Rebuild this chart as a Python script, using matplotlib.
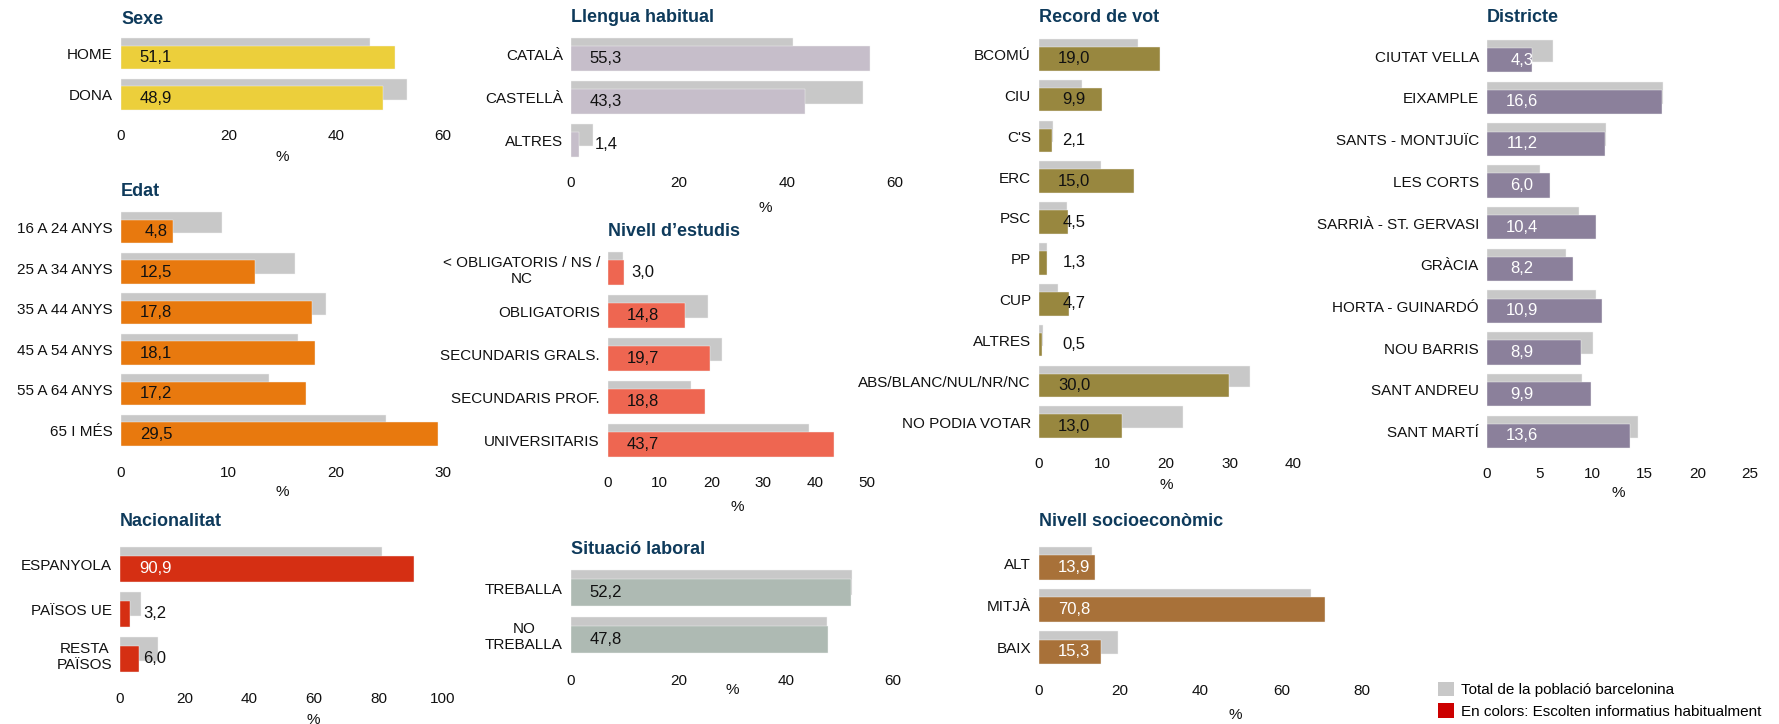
import matplotlib
matplotlib.use("Agg")
import matplotlib.pyplot as plt
from matplotlib.patches import Patch

plt.rcParams["font.family"] = ["Liberation Sans", "DejaVu Sans"]

W, H = 1779, 724  # mida de la figura en pixels (dpi 100)

# ---- dades ----
sexe_cat = ["HOME", "DONA"]
sexe_val = [51.1, 48.9]
sexe_tot = [46.4, 53.3]

edat_cat = ["16 A 24 ANYS", "25 A 34 ANYS", "35 A 44 ANYS", "45 A 54 ANYS", "55 A 64 ANYS", "65 I MÉS"]
edat_val = [4.8, 12.5, 17.8, 18.1, 17.2, 29.5]
edat_tot = [9.4, 16.2, 19.1, 16.5, 13.8, 24.7]

nac_cat = ["ESPANYOLA", "PAÏSOS UE", "RESTA\nPAÏSOS"]
nac_val = [90.9, 3.2, 6.0]
nac_tot = [81.1, 6.5, 11.8]

llengua_cat = ["CATALÀ", "CASTELLÀ", "ALTRES"]
llengua_val = [55.3, 43.3, 1.4]
llengua_tot = [41.1, 54.1, 4.1]

estudis_cat = ["< OBLIGATORIS / NS /\nNC", "OBLIGATORIS", "SECUNDARIS GRALS.", "SECUNDARIS PROF.", "UNIVERSITARIS"]
estudis_val = [3.0, 14.8, 19.7, 18.8, 43.7]
estudis_tot = [2.9, 19.3, 22.0, 16.0, 38.8]

laboral_cat = ["TREBALLA", "NO\nTREBALLA"]
laboral_val = [52.2, 47.8]
laboral_tot = [52.3, 47.7]

vot_cat = ["BCOMÚ", "CIU", "C'S", "ERC", "PSC", "PP", "CUP", "ALTRES", "ABS/BLANC/NUL/NR/NC", "NO PODIA VOTAR"]
vot_val = [19.0, 9.9, 2.1, 15.0, 4.5, 1.3, 4.7, 0.5, 30.0, 13.0]
vot_tot = [15.6, 6.8, 2.2, 9.8, 4.4, 1.3, 3.0, 0.7, 33.2, 22.7]

socio_cat = ["ALT", "MITJÀ", "BAIX"]
socio_val = [13.9, 70.8, 15.3]
socio_tot = [13.1, 67.3, 19.6]

districte_cat = ["CIUTAT VELLA", "EIXAMPLE", "SANTS - MONTJUÏC", "LES CORTS", "SARRIÀ - ST. GERVASI",
                 "GRÀCIA", "HORTA - GUINARDÓ", "NOU BARRIS", "SANT ANDREU", "SANT MARTÍ"]
districte_val = [4.3, 16.6, 11.2, 6.0, 10.4, 8.2, 10.9, 8.9, 9.9, 13.6]
districte_tot = [6.3, 16.7, 11.3, 5.0, 8.7, 7.5, 10.4, 10.1, 9.0, 14.4]

GRIS = "#C8C8C8"
TITOL = "#0E3A5B"

# ---- disseny de cada panell (pixels) ----
# titol, cat, val, tot, color, etiqueta blanca, xmax, pas,
# x esq, x dreta, y barra superior, y barra inferior, y ticks, (x,y) del %, y titol
panells = [
    ("Sexe", sexe_cat, sexe_val, sexe_tot, "#ECCF3B", False, 60, 20, 121, 443, 38, 110, 135, (282, 157), 19),
    ("Edat", edat_cat, edat_val, edat_tot, "#E8790E", False, 30, 10, 121, 443, 212, 446, 472, (282, 492), 192),
    ("Nacionalitat", nac_cat, nac_val, nac_tot, "#D52F13", True, 100, 20, 120, 443, 547, 672, 698, (313, 720), 521),
    ("Llengua habitual", llengua_cat, llengua_val, llengua_tot, "#C6BECA", False, 60, 20, 571, 895, 38, 157, 182, (765, 208), 18),
    ("Nivell d’estudis", estudis_cat, estudis_val, estudis_tot, "#EE6651", False, 50, 10, 608, 867, 252, 457, 482, (737, 507), 231),
    ("Situació laboral", laboral_cat, laboral_val, laboral_tot, "#AEBAB3", False, 60, 20, 571, 893, 570, 653, 680, (732, 690), 549),
    ("Record de vot", vot_cat, vot_val, vot_tot, "#98873F", False, 40, 10, 1039, 1293, 39, 438, 463, (1166, 485), 18),
    ("Nivell socioeconòmic", socio_cat, socio_val, socio_tot, "#A87139", True, 80, 20, 1039, 1362, 547, 664, 690, (1235, 715), 521),
    ("Districte", districte_cat, districte_val, districte_tot, "#8B809B", True, 25, 5, 1487, 1750, 40, 448, 473, (1618, 493), 18),
]

fig = plt.figure(figsize=(W / 100, H / 100), dpi=100)

for (titol, cat, val, tot, color, blanc, xmax, pas,
     x0, x1, g0, cl, ty, pct, tity) in panells:
    n = len(cat)
    s = (cl - g0) / (n - 1 + 0.775)      # alçada d'una categoria
    top = g0 - 0.115 * s
    bot = cl + 0.11 * s
    ax = fig.add_axes([x0 / W, 1 - bot / H, (x1 - x0) / W, (bot - top) / H])
    y = list(range(n))
    ax.barh([i - 0.12 for i in y], tot, height=0.53, color=GRIS, edgecolor="#F4F4F4", linewidth=0.3, zorder=2)
    ax.barh([i + 0.1 for i in y], val, height=0.58, color=color, edgecolor="#F4F4F4", linewidth=0.3, zorder=3)
    ax.set_xlim(0, xmax)
    ax.set_ylim(n - 0.5, -0.5)
    ax.set_xticks(range(0, xmax + 1, pas))
    ax.set_yticks(y)
    ax.set_yticklabels(cat)
    for lbl in ax.get_yticklabels():
        lbl.set_multialignment("center")
    pad_x = (ty - 5.5 - bot) / 1.389
    ax.tick_params(axis="x", length=0, labelsize=11, pad=pad_x, colors="#111111")
    ax.tick_params(axis="y", length=0, labelsize=11, pad=5.8, colors="#111111")
    for sp in ax.spines.values():
        sp.set_visible(False)
    px_unit = (x1 - x0) / xmax
    for i, v in enumerate(val):
        txt_color = "white" if (blanc and v * px_unit > 35) else "#111111"
        ax.annotate(f"{v:.1f}".replace(".", ","), xy=(0, i + 0.1), xytext=(35, 0),
                    textcoords="offset pixels", ha="center", va="center",
                    fontsize=12, color=txt_color, zorder=4)
    fig.text(x0 / W, 1 - tity / H, titol, fontsize=13, fontweight="bold", color=TITOL,
             ha="left", va="center")
    fig.text(pct[0] / W, 1 - pct[1] / H, "%", fontsize=11, color="#111111", ha="center", va="center")

handles = [Patch(facecolor=GRIS, label="Total de la població barcelonina"),
           Patch(facecolor="#CC0000", label="En colors: Escolten informatius habitualment")]
fig.legend(handles=handles, loc="upper left", bbox_to_anchor=(1438 / W, 1 - 682 / H),
           frameon=False, fontsize=11, handlelength=1.05, handleheight=1.05,
           handletextpad=0.45, labelspacing=0.4, borderpad=0, borderaxespad=0)

fig.savefig("out.png", dpi=100)
